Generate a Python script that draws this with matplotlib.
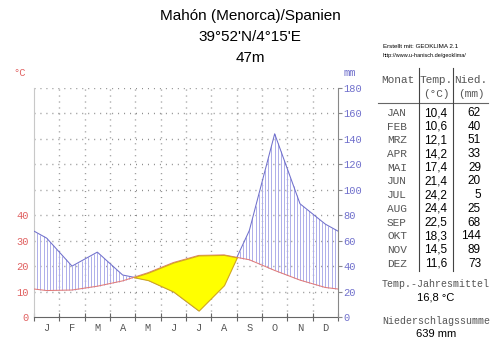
import matplotlib.pyplot as plt
import numpy as np

# Klimadaten Mahón (Menorca)
station = "Mahón (Menorca)/Spanien"
coords = "39°52'N/4°15'E"
elevation = "47m"
month_codes = ["JAN", "FEB", "MRZ", "APR", "MAI", "JUN",
               "JUL", "AUG", "SEP", "OKT", "NOV", "DEZ"]
month_letters = ["J", "F", "M", "A", "M", "J", "J", "A", "S", "O", "N", "D"]
temp = [10.4, 10.6, 12.1, 14.2, 17.4, 21.4, 24.2, 24.4, 22.5, 18.3, 14.5, 11.6]
precip = [62, 40, 51, 33, 29, 20, 5, 25, 68, 144, 89, 73]
temp_ticks = [0, 10, 20, 30, 40]
precip_ticks = [0, 20, 40, 60, 80, 100, 120, 140, 160, 180]

W, H = 500, 348
RED = "#e06060"
BLUE = "#7070cc"
HATCH = "#aeaeea"
GRAY = "#555555"
MONO = "Liberation Mono"
SANS = "Liberation Sans"

fig = plt.figure(figsize=(W / 100, H / 100), dpi=100)
ax = fig.add_axes([34 / W, 1 - 317 / H, (338 - 34) / W, (317 - 88) / H])

# curves through month centres, closed at the year edges with Dec/Jan mean
x = np.concatenate([[0], np.arange(12) + 0.5, [12]])
t_edge = (temp[0] + temp[-1]) / 2
p_edge = (precip[0] + precip[-1]) / 2
t = np.array([t_edge] + temp + [t_edge]) * 2  # 10 °C = 20 mm
p = np.array([p_edge] + precip + [p_edge], dtype=float)

# dotted grid
for gy in precip_ticks[1:]:
    ax.axhline(gy, color="#8a8a8a", lw=1, ls=(0, (0.7, 3.6)), zorder=1)
for gx in range(1, 12):
    ax.axvline(gx, color="#8a8a8a", lw=1, ls=(0, (0.7, 3.6)), zorder=1)

# humid period: vertical hatching between the curves
xs = np.arange(0, 12.0001, 1 / 8)
ts = np.interp(xs, x, t)
ps = np.interp(xs, x, p)
wet = ps > ts
ax.vlines(xs[wet], ts[wet], ps[wet], color=HATCH, lw=0.7, zorder=2)

ax.plot(x, p, color=BLUE, lw=0.75, zorder=3)
ax.plot(x, t, color="#e07a7a", lw=0.75, zorder=3)

# arid period
xf = np.linspace(0, 12, 2401)
tf = np.interp(xf, x, t)
pf = np.interp(xf, x, p)
ax.fill_between(xf, tf, pf, where=tf > pf, interpolate=True,
                facecolor="#ffff00", edgecolor="#d2a820", lw=0.8, zorder=4)

ax.set_xlim(0, 12)
ax.set_ylim(0, 180)

for side in ["top", "right"]:
    ax.spines[side].set_visible(False)
ax.spines["left"].set_color("#c8c8c8")
ax.spines["bottom"].set_color("#666666")

ax.set_yticks([v * 2 for v in temp_ticks])
ax.set_yticklabels([str(v) for v in temp_ticks], family=MONO, fontsize=7.5, color=RED)
ax.tick_params(axis="y", length=0, pad=4)

ax.set_xticks(range(13))
ax.set_xticklabels([])
ax.tick_params(axis="x", which="major", direction="inout", length=6, color="#666666")
ax.set_xticks(np.arange(12) + 0.5, minor=True)
ax.set_xticklabels(month_letters, minor=True, family=MONO, fontsize=7.5, color=GRAY)
ax.tick_params(axis="x", which="minor", length=0, pad=4)

ax2 = ax.twinx()
ax2.set_ylim(0, 180)
for side in ["top", "left", "bottom"]:
    ax2.spines[side].set_visible(False)
ax2.spines["right"].set_color("#888888")
ax2.set_yticks(precip_ticks)
ax2.set_yticklabels([str(v) for v in precip_ticks], family=MONO, fontsize=7.5, color=BLUE)
ax2.tick_params(axis="y", length=3, pad=1, color="#888888")

fig.text(20 / W, 1 - 73 / H, "°C", family=MONO, fontsize=7.5, color=RED, ha="center", va="center")
fig.text(350 / W, 1 - 73 / H, "mm", family=MONO, fontsize=7.5, color=BLUE, ha="center", va="center")

# title block
for i, line in enumerate([station, coords, elevation]):
    fig.text(0.5, 1 - (16 + 21 * i) / H, line, family=SANS, fontsize=11,
             ha="center", va="center")

# data table (pixel coordinates)
tab = fig.add_axes([0, 0, 1, 1])
tab.set_xlim(0, W)
tab.set_ylim(H, 0)
tab.axis("off")

tab.text(383, 46, "Erstellt mit: GEOKLIMA 2.1", family=SANS, fontsize=4.5, va="center")
tab.text(383, 55, "http://www.u-hanisch.de/geoklima/", family=SANS, fontsize=4, va="center")

tab.text(398, 80, "Monat", family=MONO, fontsize=8, color=GRAY, ha="center", va="center")
tab.text(436, 80, "Temp.", family=MONO, fontsize=8, color=GRAY, ha="center", va="center")
tab.text(471, 80, "Nied.", family=MONO, fontsize=8, color=GRAY, ha="center", va="center")
tab.text(436, 94, "(°C)", family=MONO, fontsize=8, color=GRAY, ha="center", va="center")
tab.text(471, 94, "(mm)", family=MONO, fontsize=8, color=GRAY, ha="center", va="center")

tab.plot([378, 488], [103, 103], color="#666666", lw=0.8)
tab.plot([419, 419], [68, 271], color="#444444", lw=0.8)
tab.plot([453, 453], [68, 271], color="#444444", lw=0.8)

for i, (code, tv, pv) in enumerate(zip(month_codes, temp, precip)):
    ry = 113 + 13.7 * i
    tab.text(397, ry, code, family=MONO, fontsize=8, color=GRAY, ha="center", va="center")
    tab.text(447, ry, f"{tv:.1f}".replace(".", ","), family=SANS, fontsize=8.5,
             ha="right", va="center")
    tab.text(481, ry, str(pv), family=SANS, fontsize=8.5, ha="right", va="center")

mean_temp = np.mean(temp)
total_precip = int(np.sum(precip))
tab.text(436, 284, "Temp.-Jahresmittel", family=MONO, fontsize=7.2, color=GRAY,
         ha="center", va="center")
tab.text(436, 298, f"{mean_temp:.1f} °C".replace(".", ","), family=SANS, fontsize=8,
         ha="center", va="center")
tab.text(436, 321, "Niederschlagssumme", family=MONO, fontsize=7.2, color=GRAY,
         ha="center", va="center")
tab.text(436, 334, f"{total_precip} mm", family=SANS, fontsize=8,
         ha="center", va="center")

fig.savefig("out.png", dpi=100)
